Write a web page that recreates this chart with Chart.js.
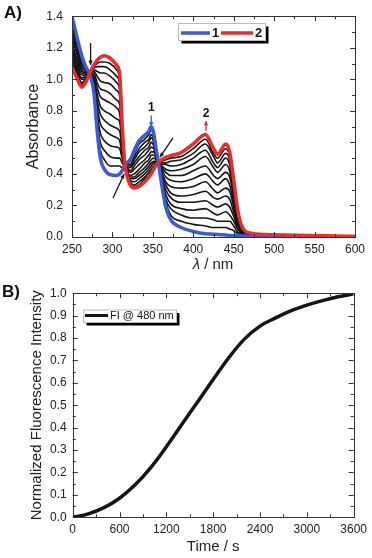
<!DOCTYPE html>
<html>
<head>
<meta charset="utf-8">
<script src="https://cdn.jsdelivr.net/npm/chart.js@4.4.1/dist/chart.umd.min.js"></script>
<style>
  body { margin: 0; background: #fff; }
  #wrap { position: relative; width: 372px; height: 558px; font-family: "Liberation Sans", Arial, sans-serif; }
  canvas { position: absolute; left: 0; }
  .tag { position: absolute; font-weight: bold; font-size: 17px; color: #111; }
</style>
</head>
<body>
<div id="wrap">
  <canvas id="chartA" width="372" height="280" style="top:0"></canvas>
  <canvas id="chartB" width="372" height="278" style="top:280px"></canvas>
  <div class="tag" style="left:4px;top:3px">A)</div>
  <div class="tag" style="left:2px;top:282px">B)</div>
</div>
<script>
// --- panel A: absorption spectra (nm / absorbance) ---
const wavelengths = [250, 256, 262, 267, 272, 277, 281, 285, 290, 297, 305, 309, 312, 315, 318, 322, 327, 333, 340, 345,
  348, 351, 354, 357, 361, 366, 372, 385, 400, 415, 425, 430, 440, 445, 450, 455, 460, 470, 490, 600];

// compound 1 (blue, start) and compound 2 (red, end)
const spec1 = [1.40, 1.27, 1.15, 1.08, 1.03, 0.92, 0.68, 0.50, 0.43, 0.395, 0.39, 0.40, 0.42, 0.45, 0.47, 0.49, 0.55, 0.61, 0.645, 0.67,
  0.70, 0.66, 0.56, 0.47, 0.33, 0.19, 0.11, 0.06, 0.035, 0.02, 0.018, 0.016, 0.012, 0.01, 0.01, 0.008, 0.007, 0.005, 0.003, 0.001];
const spec2 = [1.075, 1.01, 0.95, 0.98, 1.04, 1.09, 1.12, 1.14, 1.15, 1.135, 1.09, 1.03, 0.72, 0.48, 0.39, 0.33, 0.31, 0.32, 0.35, 0.38,
  0.40, 0.43, 0.455, 0.47, 0.49, 0.505, 0.515, 0.535, 0.59, 0.65, 0.56, 0.525, 0.59, 0.54, 0.36, 0.17, 0.07, 0.025, 0.016, 0.005];

// intermediate spectra (black)
const t1 = [1.37, 1.25, 1.13, 1.07, 1.03, 0.93, 0.72, 0.55, 0.49, 0.45, 0.45, 0.45, 0.44, 0.45, 0.46, 0.48, 0.53, 0.59, 0.62, 0.65,
  0.68, 0.64, 0.55, 0.47, 0.34, 0.22, 0.14, 0.10, 0.08, 0.07, 0.06, 0.06, 0.06, 0.05, 0.04, 0.02, 0.01, 0.01, 0.01, 0.003];
const t2 = [1.35, 1.23, 1.12, 1.06, 1.03, 0.95, 0.75, 0.60, 0.55, 0.51, 0.50, 0.50, 0.47, 0.45, 0.46, 0.46, 0.51, 0.56, 0.60, 0.62,
  0.65, 0.62, 0.54, 0.47, 0.36, 0.24, 0.18, 0.14, 0.12, 0.12, 0.11, 0.10, 0.10, 0.10, 0.07, 0.03, 0.02, 0.01, 0.01, 0.003];
const t3 = [1.32, 1.20, 1.10, 1.06, 1.03, 0.96, 0.79, 0.66, 0.61, 0.58, 0.57, 0.56, 0.50, 0.46, 0.45, 0.45, 0.49, 0.54, 0.57, 0.60,
  0.63, 0.60, 0.53, 0.47, 0.37, 0.27, 0.21, 0.18, 0.17, 0.18, 0.15, 0.14, 0.16, 0.14, 0.10, 0.05, 0.02, 0.01, 0.01, 0.003];
const t4 = [1.29, 1.18, 1.08, 1.05, 1.03, 0.98, 0.83, 0.72, 0.68, 0.65, 0.63, 0.61, 0.52, 0.46, 0.44, 0.44, 0.47, 0.51, 0.55, 0.57,
  0.60, 0.58, 0.52, 0.47, 0.38, 0.30, 0.25, 0.22, 0.22, 0.23, 0.20, 0.19, 0.21, 0.19, 0.13, 0.06, 0.03, 0.01, 0.01, 0.003];
const t5 = [1.26, 1.16, 1.06, 1.04, 1.03, 0.99, 0.87, 0.78, 0.74, 0.71, 0.69, 0.67, 0.55, 0.46, 0.44, 0.42, 0.45, 0.49, 0.52, 0.55,
  0.57, 0.56, 0.52, 0.47, 0.40, 0.33, 0.28, 0.26, 0.27, 0.29, 0.25, 0.24, 0.26, 0.24, 0.16, 0.08, 0.03, 0.01, 0.01, 0.003];
const t6 = [1.23, 1.13, 1.05, 1.03, 1.04, 1.01, 0.91, 0.83, 0.80, 0.78, 0.75, 0.73, 0.58, 0.47, 0.43, 0.41, 0.43, 0.46, 0.49, 0.52,
  0.54, 0.54, 0.51, 0.47, 0.41, 0.35, 0.32, 0.31, 0.32, 0.35, 0.30, 0.28, 0.31, 0.29, 0.19, 0.09, 0.04, 0.02, 0.01, 0.003];
const t7 = [1.20, 1.11, 1.03, 1.02, 1.04, 1.02, 0.95, 0.89, 0.87, 0.85, 0.82, 0.78, 0.60, 0.47, 0.42, 0.39, 0.40, 0.43, 0.47, 0.49,
  0.52, 0.52, 0.50, 0.47, 0.43, 0.38, 0.36, 0.35, 0.37, 0.40, 0.35, 0.33, 0.37, 0.33, 0.22, 0.11, 0.05, 0.02, 0.01, 0.003];
const t8 = [1.18, 1.09, 1.01, 1.01, 1.04, 1.04, 0.98, 0.94, 0.93, 0.91, 0.87, 0.84, 0.63, 0.47, 0.42, 0.38, 0.38, 0.41, 0.44, 0.47,
  0.49, 0.50, 0.49, 0.47, 0.44, 0.41, 0.39, 0.39, 0.42, 0.45, 0.39, 0.37, 0.41, 0.38, 0.25, 0.12, 0.05, 0.02, 0.01, 0.003];
const t9 = [1.15, 1.07, 1.00, 1.00, 1.04, 1.05, 1.02, 0.99, 0.98, 0.97, 0.93, 0.89, 0.65, 0.47, 0.41, 0.37, 0.37, 0.39, 0.42, 0.45,
  0.47, 0.48, 0.48, 0.47, 0.45, 0.43, 0.42, 0.43, 0.46, 0.51, 0.44, 0.41, 0.46, 0.42, 0.28, 0.13, 0.06, 0.02, 0.01, 0.003];
const t10 = [1.13, 1.05, 0.98, 1.00, 1.04, 1.06, 1.05, 1.04, 1.04, 1.02, 0.98, 0.93, 0.67, 0.48, 0.40, 0.36, 0.35, 0.37, 0.40, 0.43,
  0.45, 0.47, 0.47, 0.47, 0.46, 0.46, 0.45, 0.46, 0.50, 0.55, 0.47, 0.44, 0.50, 0.46, 0.30, 0.14, 0.06, 0.02, 0.01, 0.003];
const t11 = [1.11, 1.04, 0.97, 0.99, 1.04, 1.07, 1.08, 1.08, 1.08, 1.06, 1.02, 0.97, 0.69, 0.48, 0.40, 0.35, 0.33, 0.35, 0.38, 0.41,
  0.43, 0.45, 0.47, 0.47, 0.47, 0.47, 0.48, 0.49, 0.53, 0.59, 0.51, 0.47, 0.53, 0.49, 0.33, 0.15, 0.06, 0.02, 0.01, 0.003];
const t12 = [1.09, 1.02, 0.96, 0.99, 1.04, 1.08, 1.10, 1.11, 1.11, 1.10, 1.06, 1.00, 0.71, 0.48, 0.39, 0.34, 0.32, 0.33, 0.37, 0.39,
  0.42, 0.44, 0.46, 0.47, 0.48, 0.49, 0.50, 0.51, 0.56, 0.62, 0.53, 0.50, 0.56, 0.51, 0.34, 0.16, 0.07, 0.02, 0.01, 0.003];
const midSpectra = [t1, t2, t3, t4, t5, t6, t7, t8, t9, t10, t11, t12];

// --- panel B: fluorescence kinetics ---
const fluTime = [0, 200, 400, 600, 800, 1000, 1200, 1400, 1600, 1800, 2000, 2200, 2400, 2600, 2800, 3000, 3200, 3400, 3600];
const fluValue = [0.0, 0.015, 0.043, 0.085, 0.145, 0.222, 0.315, 0.415, 0.515, 0.615, 0.712, 0.795, 0.853, 0.89, 0.922, 0.947, 0.967, 0.984, 0.997];

const BLUE = '#3d5bd6';
const RED = '#ee2b2b';
const INK = '#151515';
const FONT = '"Liberation Sans", Arial, sans-serif';

Chart.defaults.font.family = FONT;
Chart.defaults.color = '#222';

// box frame with inward ticks on all four sides
const framePlugin = {
  id: 'frame',
  afterDraw(chart, args, opts) {
    const { ctx, chartArea: a, scales: { x, y } } = chart;
    ctx.save();
    ctx.strokeStyle = '#333';
    ctx.lineWidth = 1;
    ctx.strokeRect(Math.round(a.left) + 0.5, Math.round(a.top) + 0.5, Math.round(a.right - a.left), Math.round(a.bottom - a.top));
    ctx.beginPath();
    const n1 = Math.round((x.max - x.min) / opts.xMinor);
    for (let i = 0; i <= n1; i++) {
      const v = x.min + i * opts.xMinor;
      const major = Math.abs(v / opts.xMajor - Math.round(v / opts.xMajor)) < 1e-6;
      const len = major ? 5 : 3;
      const px = Math.round(x.getPixelForValue(v)) + 0.5;
      ctx.moveTo(px, a.bottom); ctx.lineTo(px, a.bottom - len);
      ctx.moveTo(px, a.top); ctx.lineTo(px, a.top + len);
    }
    const n2 = Math.round((y.max - y.min) / opts.yMinor);
    for (let i = 0; i <= n2; i++) {
      const v = y.min + i * opts.yMinor;
      const major = Math.abs(v / opts.yMajor - Math.round(v / opts.yMajor)) < 1e-6;
      const len = major ? 5 : 3;
      const py = Math.round(y.getPixelForValue(v)) + 0.5;
      ctx.moveTo(a.left, py); ctx.lineTo(a.left + len, py);
      ctx.moveTo(a.right, py); ctx.lineTo(a.right - len, py);
    }
    ctx.stroke();
    ctx.restore();
  }
};

function arrow(ctx, x1, y1, x2, y2, color) {
  const head = 5;
  ctx.strokeStyle = color;
  ctx.fillStyle = color;
  ctx.lineWidth = 1.3;
  ctx.beginPath(); ctx.moveTo(x1, y1); ctx.lineTo(x2, y2); ctx.stroke();
  const ang = Math.atan2(y2 - y1, x2 - x1);
  ctx.beginPath();
  ctx.moveTo(x2, y2);
  ctx.lineTo(x2 - head * Math.cos(ang - 0.45), y2 - head * Math.sin(ang - 0.45));
  ctx.lineTo(x2 - head * Math.cos(ang + 0.45), y2 - head * Math.sin(ang + 0.45));
  ctx.closePath();
  ctx.fill();
}

// arrows and labels of panel A, in data units
const arrowsA = [
  { from: [273, 1.23], to: [273, 1.09], color: INK },
  { from: [348, 0.77], to: [348, 0.70], color: BLUE },
  { from: [415.7, 0.672], to: [415.7, 0.735], color: RED },
  { from: [300.7, 0.247], to: [314.5, 0.40], color: INK },
  { from: [374.9, 0.629], to: [358.8, 0.506], color: INK }
];
const peakLabels = [
  { text: '1', at: [348, 0.82] },
  { text: '2', at: [415.7, 0.783] }
];

const annotA = {
  id: 'annotA',
  afterDraw(chart) {
    const { ctx, scales: { x, y } } = chart;
    ctx.save();
    arrowsA.forEach(a => arrow(ctx, x.getPixelForValue(a.from[0]), y.getPixelForValue(a.from[1]),
      x.getPixelForValue(a.to[0]), y.getPixelForValue(a.to[1]), a.color));
    ctx.fillStyle = INK;
    ctx.font = 'bold 12px ' + FONT;
    ctx.textAlign = 'center';
    ctx.textBaseline = 'middle';
    peakLabels.forEach(p => ctx.fillText(p.text, x.getPixelForValue(p.at[0]), y.getPixelForValue(p.at[1])));

    // legend box
    ctx.fillStyle = '#000';
    ctx.fillRect(181.5, 26.5, 87, 17);
    ctx.fillStyle = '#fff';
    ctx.fillRect(178.5, 23.5, 87, 17);
    ctx.strokeStyle = '#bbb';
    ctx.lineWidth = 1;
    ctx.strokeRect(178.5, 23.5, 87, 17);
    ctx.lineWidth = 3.5;
    ctx.strokeStyle = BLUE;
    ctx.beginPath(); ctx.moveTo(181, 33); ctx.lineTo(210, 33); ctx.stroke();
    ctx.strokeStyle = RED;
    ctx.beginPath(); ctx.moveTo(221, 33); ctx.lineTo(253, 33); ctx.stroke();
    ctx.fillStyle = INK;
    ctx.font = 'bold 13px ' + FONT;
    ctx.textAlign = 'left';
    ctx.fillText('1', 212, 33);
    ctx.fillText('2', 255, 33);

    // x title with italic lambda
    ctx.font = 'italic 15px ' + FONT;
    const w1 = ctx.measureText('λ').width;
    ctx.font = '15px ' + FONT;
    const w2 = ctx.measureText(' / nm').width;
    const x0 = 213 - (w1 + w2) / 2;
    ctx.fillStyle = '#222';
    ctx.font = 'italic 15px ' + FONT;
    ctx.fillText('λ', x0, 265);
    ctx.font = '15px ' + FONT;
    ctx.fillText(' / nm', x0 + w1, 265);
    ctx.restore();
  }
};

const annotB = {
  id: 'annotB',
  afterDraw(chart) {
    const { ctx } = chart;
    ctx.save();
    ctx.fillStyle = '#000';
    ctx.fillRect(86.5, 33, 93, 12.5);
    ctx.fillStyle = '#fff';
    ctx.fillRect(83.5, 30, 93, 12.5);
    ctx.strokeStyle = '#bbb';
    ctx.lineWidth = 1;
    ctx.strokeRect(83.5, 30, 93, 12.5);
    ctx.strokeStyle = INK;
    ctx.lineWidth = 3;
    ctx.beginPath(); ctx.moveTo(85, 35.5); ctx.lineTo(108, 35.5); ctx.stroke();
    ctx.fillStyle = INK;
    ctx.font = '11px ' + FONT;
    ctx.textBaseline = 'middle';
    ctx.fillText('FI @ 480 nm', 110, 36);
    ctx.restore();
  }
};

const toXY = arr => wavelengths.map((w, i) => ({ x: w, y: arr[i] }));

const datasetsA = [
  { label: '2', data: toXY(spec2), borderColor: RED, borderWidth: 3.5 },
  { label: '1', data: toXY(spec1), borderColor: BLUE, borderWidth: 3.5 },
  ...midSpectra.map(s => ({ data: toXY(s), borderColor: INK, borderWidth: 1.6 }))
];

new Chart(document.getElementById('chartA'), {
  type: 'line',
  data: { datasets: datasetsA },
  options: {
    responsive: false,
    animation: false,
    devicePixelRatio: 1,
    layout: { padding: { left: 0, right: 17, top: 10, bottom: 0 } },
    elements: { point: { radius: 0 }, line: { cubicInterpolationMode: 'monotone' } },
    plugins: {
      legend: { display: false },
      tooltip: { enabled: false },
      frame: { xMajor: 50, xMinor: 25, yMajor: 0.2, yMinor: 0.1 }
    },
    scales: {
      x: {
        type: 'linear', min: 250, max: 600,
        ticks: { stepSize: 50, padding: 5, font: { size: 12 }, callback: v => String(v) },
        grid: { display: false, drawTicks: false },
        border: { display: false },
        afterFit: s => { s.height = 43; }
      },
      y: {
        min: 0, max: 1.4,
        ticks: { stepSize: 0.2, padding: 9, font: { size: 12 }, callback: v => v.toFixed(1) },
        grid: { display: false, drawTicks: false },
        border: { display: false },
        title: { display: true, text: 'Absorbance', font: { size: 16 }, padding: { top: 24 } },
        afterFit: s => { s.width = 72; }
      }
    }
  },
  plugins: [framePlugin, annotA]
});

new Chart(document.getElementById('chartB'), {
  type: 'line',
  data: {
    datasets: [{
      data: fluTime.map((t, i) => ({ x: t, y: fluValue[i] })),
      borderColor: INK, borderWidth: 3.5,
      tension: 0.4, cubicInterpolationMode: 'default'
    }]
  },
  options: {
    responsive: false,
    animation: false,
    devicePixelRatio: 1,
    layout: { padding: { left: 0, right: 17.7, top: 12.7, bottom: 0 } },
    elements: { point: { radius: 0 } },
    plugins: {
      legend: { display: false },
      tooltip: { enabled: false },
      frame: { xMajor: 600, xMinor: 300, yMajor: 0.1, yMinor: 0.05 }
    },
    scales: {
      x: {
        type: 'linear', min: 0, max: 3600,
        ticks: { stepSize: 600, padding: 5, font: { size: 12 }, callback: v => String(v) },
        grid: { display: false, drawTicks: false },
        border: { display: false },
        title: { display: true, text: 'Time / s', font: { size: 15 }, padding: { top: 0, bottom: 2 } },
        afterFit: s => { s.height = 40.7; }
      },
      y: {
        min: 0, max: 1,
        ticks: { stepSize: 0.1, padding: 6, font: { size: 12 }, callback: v => v.toFixed(1) },
        grid: { display: false, drawTicks: false },
        border: { display: false },
        title: { display: true, text: 'Normalized Fluorescence Intensity', font: { size: 15 }, padding: { top: 28 } },
        afterFit: s => { s.width = 72.7; }
      }
    }
  },
  plugins: [framePlugin, annotB]
});
</script>
</body>
</html>
